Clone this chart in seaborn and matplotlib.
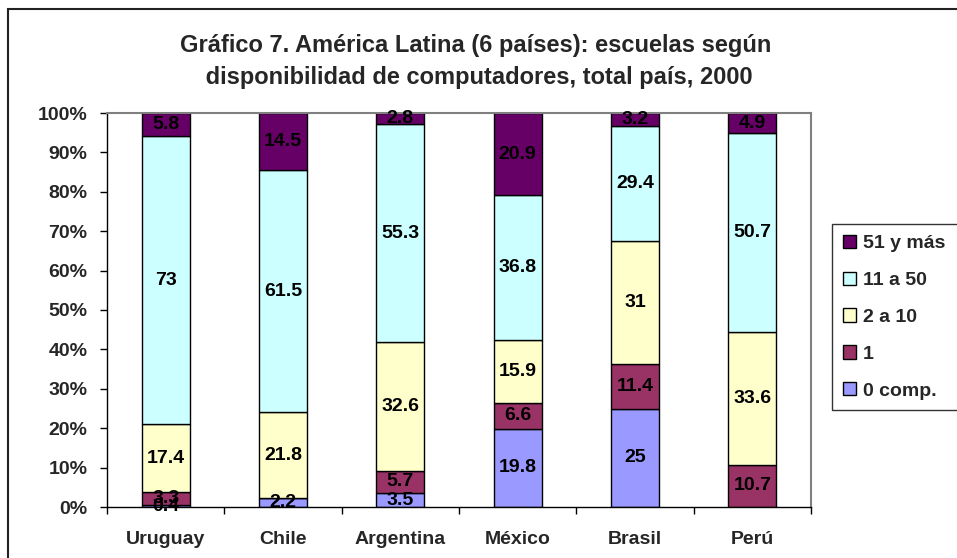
import numpy as np
import pandas as pd
import matplotlib
matplotlib.use("Agg")
import matplotlib.pyplot as plt
from matplotlib.patches import Rectangle, Patch
import seaborn as sns

countries = ["Uruguay", "Chile", "Argentina", "México", "Brasil", "Perú"]
series_names = ["0 comp.", "1", "2 a 10", "11 a 50", "51 y más"]
comp0 = [0.4, 2.2, 3.5, 19.8, 25.0, 0.0]
comp1 = [3.3, 0.0, 5.7, 6.6, 11.4, 10.7]
comp2_10 = [17.4, 21.8, 32.6, 15.9, 31.0, 33.6]
comp11_50 = [73.0, 61.5, 55.3, 36.8, 29.4, 50.7]
comp51 = [5.8, 14.5, 2.8, 20.9, 3.2, 4.9]
colors = ["#9999FF", "#993366", "#FFFFCC", "#CCFFFF", "#660066"]
title = "Gráfico 7. América Latina (6 países): escuelas según\n disponibilidad de computadores, total país, 2000"

sns.set_style("white")
plt.rcParams["font.family"] = ["Liberation Sans", "DejaVu Sans"]
plt.rcParams["font.weight"] = "bold"

fig = plt.figure(figsize=(9.57, 5.58), dpi=100)
W, H = 957, 558
ax = fig.add_axes([107 / W, 1 - 507 / H, (811 - 107) / W, (507 - 113) / H])

values = [comp0, comp1, comp2_10, comp11_50, comp51]
bottom = np.zeros(len(countries))
for name, vals, col in zip(series_names, values, colors):
    df = pd.DataFrame({"país": countries, "valor": vals})
    sns.barplot(data=df, x="país", y="valor", order=countries, bottom=bottom,
                color=col, width=0.41, edgecolor="black", linewidth=1.0,
                saturation=1, errorbar=None, ax=ax, label=name)
    for i, v in enumerate(vals):
        if v > 0:
            ax.text(i, bottom[i] + v / 2, f"{v:g}", ha="center", va="center",
                    fontsize=14, fontweight="bold", color="black")
    bottom = bottom + np.array(vals)

ax.set_xlim(-0.5, 5.5)
ax.set_ylim(0, 100)
ax.set_xlabel("")
ax.set_ylabel("")
ax.set_yticks(np.arange(0, 101, 10))
ax.set_yticklabels([f"{t}%" for t in range(0, 101, 10)], fontsize=14, fontweight="bold")
ax.set_xticks(np.arange(-0.5, 6, 1))
ax.set_xticklabels([])
ax.set_xticks(np.arange(6), minor=True)
ax.set_xticklabels(countries, minor=True, fontsize=14, fontweight="bold")
ax.tick_params(axis="x", which="major", direction="out", length=5, color="black", width=1)
ax.tick_params(axis="x", which="minor", length=0, pad=17)
ax.tick_params(axis="y", direction="out", length=5, color="black", width=1, pad=9)
ax.tick_params(axis="both", which="both", bottom=True, left=True)
for s in ["top", "right"]:
    ax.spines[s].set_visible(True)
    ax.spines[s].set_color("#808080")
    ax.spines[s].set_linewidth(1.5)
for s in ["left", "bottom"]:
    ax.spines[s].set_color("black")
    ax.spines[s].set_linewidth(1)
if ax.get_legend() is not None:
    ax.get_legend().remove()

handles = [Patch(facecolor=c, edgecolor="black", linewidth=1) for c in colors[::-1]]
fig.legend(handles, series_names[::-1], loc="upper left", mode="expand",
           bbox_to_anchor=(832 / W, 1 - 414 / H, 0.2, (414 - 224) / H),
           frameon=True, fancybox=False,
           edgecolor="black", prop={"size": 14, "weight": "bold"},
           handlelength=0.67, handleheight=0.67, handletextpad=0.36,
           labelspacing=1.0, borderpad=0.55, borderaxespad=0)

fig.text(476 / W, 1 - 61.5 / H, title, ha="center", va="center",
         fontsize=17, fontweight="bold", linespacing=1.45)

fig.patches.append(Rectangle((8 / W, -0.1), 1.2, 1 - 9 / H + 0.1,
                             transform=fig.transFigure, fill=False,
                             edgecolor="#222222", linewidth=1.5))

fig.savefig("out.png", dpi=100)
